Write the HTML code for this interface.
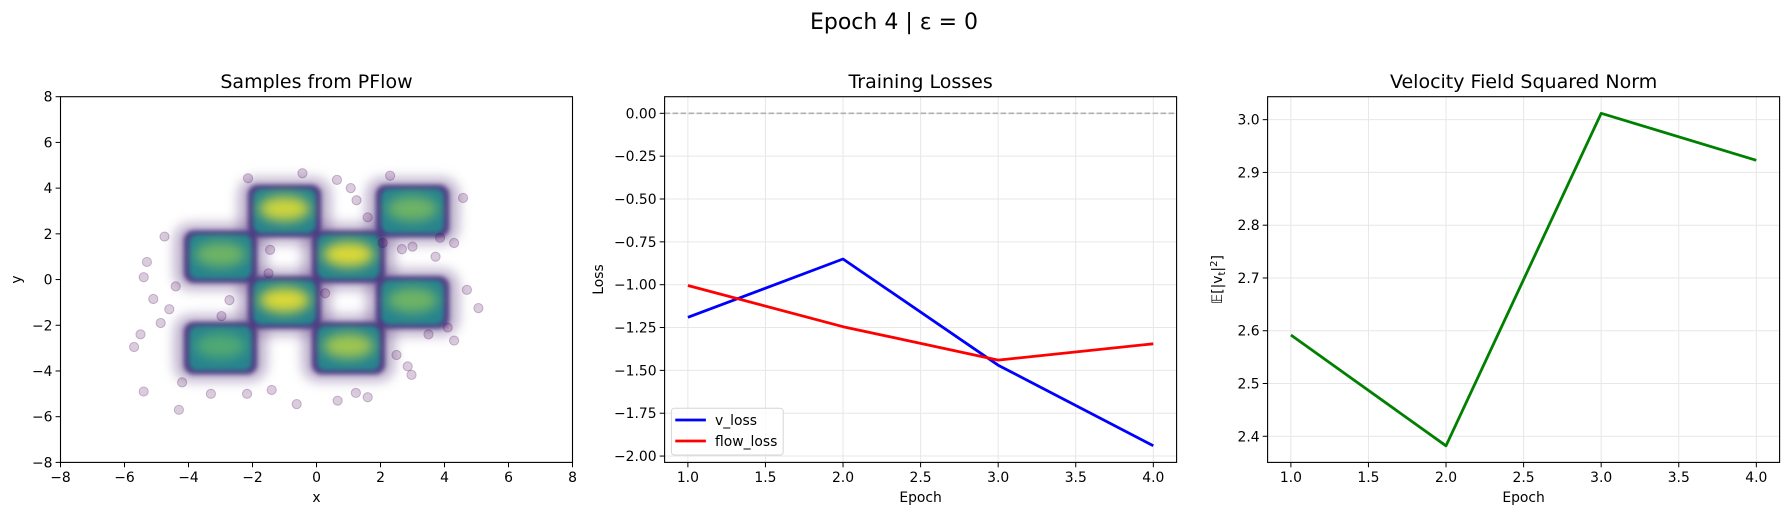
<!DOCTYPE html>
<html><head><meta charset="utf-8"><style>
html,body{margin:0;padding:0;background:#fff}
svg{display:block;font-family:"DejaVu Sans","Liberation Sans",sans-serif}
</style></head><body>
<svg id="fig" width="1789" height="515" viewBox="0 0 1789 515" xmlns="http://www.w3.org/2000/svg">
<defs>
<filter id="b5" x="-50%" y="-50%" width="200%" height="200%"><feGaussianBlur stdDeviation="6"/></filter>
<filter id="b3" x="-50%" y="-50%" width="200%" height="200%"><feGaussianBlur stdDeviation="2.5"/></filter>
<filter id="b6" x="-50%" y="-50%" width="200%" height="200%"><feGaussianBlur stdDeviation="6"/></filter>
</defs>
<rect width="1789" height="515" fill="#fff"/>
<text x="894" y="29" font-size="22" text-anchor="middle">Epoch 4 | ε = 0</text>
<g id="p1"></g>
<g id="p2"></g>
<g id="p3"></g>
</svg>
<script>
// ---- Panel 1 data: checkerboard clusters ----
const clusterX = [-1, 3, -3, 1, -1, 3, -3, 1];
const clusterY = [3, 3, 1, 1, -1, -1, -3, -3];
const clusterCore = [0.9, 0.45, 0.45, 0.95, 0.95, 0.45, 0.25, 0.7];
const outlierX = [-5.7,-5.4,-4.3,-0.62,0.66,5.06,4.7,4.3,2.3,-0.44,-2.14,4.58,3.86,3.0,3.72,2.67,-4.75,-5.3,-5.4,-5.1,-4.87,-5.5,-1.4,-2.17,-3.3,1.23,1.6,2.97,2.85,2.5,0.64,1.07,1.25,1.6,2.07,-1.45,-1.5,-2.72,-2.97,0.27,-4.6,-4.4,4.1,4.3,-4.2,3.5];
const outlierY = [-2.95,-4.9,-5.7,-5.45,-5.3,-1.25,-0.45,-2.67,4.54,4.65,4.43,3.57,1.83,1.44,1.0,1.33,1.88,0.77,0.1,-0.85,-1.9,-2.4,-4.83,-5.0,-5.0,-4.96,-5.15,-4.17,-3.8,-3.3,4.36,4.0,3.47,2.72,1.6,1.3,0.27,-0.9,-1.6,-0.6,-1.3,-0.3,-2.1,1.6,-4.5,-2.4];
// ---- Panel 2 data ----
const epochs = [1, 2, 3, 4];
const vLoss = [-1.19, -0.85, -1.47, -1.94];
const flowLoss = [-1.005, -1.245, -1.44, -1.345];
const lossTicks = [0, -0.25, -0.5, -0.75, -1.0, -1.25, -1.5, -1.75, -2.0];
const lossTickLabels = ["0.00","−0.25","−0.50","−0.75","−1.00","−1.25","−1.50","−1.75","−2.00"];
const epochTicks = [1.0, 1.5, 2.0, 2.5, 3.0, 3.5, 4.0];
const epochTickLabels = ["1.0","1.5","2.0","2.5","3.0","3.5","4.0"];
// ---- Panel 3 data ----
const vNorm = [2.592, 2.382, 3.012, 2.923];
const normTicks = [2.4, 2.5, 2.6, 2.7, 2.8, 2.9, 3.0];
const normTickLabels = ["2.4","2.5","2.6","2.7","2.8","2.9","3.0"];
const p1Ticks = [-8,-6,-4,-2,0,2,4,6,8];
const p1TickLabels = ["−8","−6","−4","−2","0","2","4","6","8"];

const NS = "http://www.w3.org/2000/svg";
function mk(parent, tag, attrs, text){
  const e = document.createElementNS(NS, tag);
  for (const k in attrs) e.setAttribute(k, attrs[k]);
  if (text !== undefined) e.textContent = text;
  parent.appendChild(e);
  return e;
}
const TOP = 96.7, BOT = 462.4;
const P1L = 60.5, P1R = 572.5, P2L = 664.6, P2R = 1176.6, P3L = 1267.6, P3R = 1779.6;
const sx1 = v => P1L + (v + 8) / 16 * (P1R - P1L);
const sy1 = v => TOP + (8 - v) / 16 * (BOT - TOP);
const xlo = 0.85, xhi = 4.15;
const sx2 = v => P2L + (v - xlo) / (xhi - xlo) * (P2R - P2L);
const sx3 = v => P3L + (v - xlo) / (xhi - xlo) * (P3R - P3L);
const y2lo = -2.037, y2hi = 0.097;
const sy2 = v => TOP + (y2hi - v) / (y2hi - y2lo) * (BOT - TOP);
const y3lo = 2.3505, y3hi = 3.0435;
const sy3 = v => TOP + (y3hi - v) / (y3hi - y3lo) * (BOT - TOP);

function lerpColor(a, b, t){
  const pa = [1,3,5].map(i=>parseInt(a.substr(i,2),16));
  const pb = [1,3,5].map(i=>parseInt(b.substr(i,2),16));
  return "rgb(" + pa.map((v,i)=>Math.round(v+(pb[i]-v)*t)).join(",") + ")";
}

function axesFrame(g, L, R){
  const f = mk(g, "rect", {x:L, y:TOP, width:R-L, height:BOT-TOP, fill:"none", stroke:"#000", "stroke-width":1.1});
  
  
}
function xTicks(g, ticks, labels, sx){
  ticks.forEach((t,i)=>{
    const x = sx(t);
    const tk = mk(g, "line", {x1:x, x2:x, y1:BOT, y2:BOT+4.9, stroke:"#000", "stroke-width":1});
    
    
    const lb = mk(g, "text", {x:x, y:BOT+19.5, "font-size":13.9, "text-anchor":"middle"}, labels[i]);
    
    
  });
}
function yTicks(g, ticks, labels, sy, L){
  ticks.forEach((t,i)=>{
    const y = sy(t);
    const tk = mk(g, "line", {x1:L-4.9, x2:L, y1:y, y2:y, stroke:"#000", "stroke-width":1});
    
    
    const lb = mk(g, "text", {x:L-8, y:y+5, "font-size":13.9, "text-anchor":"end"}, labels[i]);
    
    
  });
}
function grid(g, xt, yt, sx, sy, L, R){
  xt.forEach(t=>{
    const l = mk(g, "line", {x1:sx(t), x2:sx(t), y1:TOP, y2:BOT, stroke:"#e7e7e7", "stroke-width":1});
    
    
  });
  yt.forEach(t=>{
    const l = mk(g, "line", {x1:L, x2:R, y1:sy(t), y2:sy(t), stroke:"#e7e7e7", "stroke-width":1});
    
    
  });
}
function title(g, cx, txt){
  const t = mk(g, "text", {x:cx, y:88, "font-size":19, "text-anchor":"middle"}, txt);
  
  
}
function polyline(g, xs, ys, sx, sy, color){
  const pts = xs.map((x,i)=>sx(x).toFixed(1)+","+sy(ys[i]).toFixed(1)).join(" ");
  return mk(g, "polyline", {points:pts, fill:"none", stroke:color, "stroke-width":2.8, "stroke-linejoin":"round"});
}

// ---- Panel 1 ----
const p1 = document.getElementById("p1");
title(p1, (P1L+P1R)/2, "Samples from PFlow");
const ux = (P1R-P1L)/16, uy = (BOT-TOP)/16;
const layers = mk(p1, "g", {});


clusterX.forEach((cx,i)=>{
  const x = sx1(cx), y = sy1(clusterY[i]);
  const h = mk(layers, "rect", {x:x-1.45*ux, y:y-1.45*uy, width:2.9*ux, height:2.9*uy, rx:16, fill:"#7d6499", opacity:0.5, filter:"url(#b5)"});
  
  
});
clusterX.forEach((cx,i)=>{
  const x = sx1(cx), y = sy1(clusterY[i]);
  const e = mk(layers, "rect", {x:x-1.15*ux, y:y-1.15*uy, width:2.3*ux, height:2.3*uy, rx:10, fill:"#47327e", opacity:0.9, filter:"url(#b3)"});
  
  
  const m = mk(layers, "rect", {x:x-0.98*ux, y:y-0.98*uy, width:1.96*ux, height:1.96*uy, rx:8, fill:"#26838e", filter:"url(#b3)"});
  
  
  const c = mk(layers, "ellipse", {cx:x, cy:y-0.1*uy, rx:0.8*ux, ry:0.55*uy, fill:lerpColor("#3fbc73","#fde725",clusterCore[i]), opacity:0.45+0.45*clusterCore[i], filter:"url(#b6)"});
  
  
});
outlierX.forEach((ox,i)=>{
  const p = mk(layers, "circle", {cx:sx1(ox), cy:sy1(outlierY[i]), r:4.6, fill:"#440154", "fill-opacity":0.2, stroke:"#440154", "stroke-opacity":0.25, "stroke-width":1});
  
  
});
axesFrame(p1, P1L, P1R);
xTicks(p1, p1Ticks, p1TickLabels, sx1);
yTicks(p1, p1Ticks, p1TickLabels, sy1, P1L);
const xl1 = mk(p1, "text", {x:(P1L+P1R)/2, y:502, "font-size":13.9, "text-anchor":"middle"}, "x");


const yl1 = mk(p1, "text", {x:0, y:0, "font-size":13.9, "text-anchor":"middle", transform:"translate(21,"+((TOP+BOT)/2)+") rotate(-90)"}, "y");



// ---- Panel 2 ----
const p2 = document.getElementById("p2");
title(p2, (P2L+P2R)/2, "Training Losses");
grid(p2, epochTicks, lossTicks, sx2, sy2, P2L, P2R);
const hl = mk(p2, "line", {x1:P2L, x2:P2R, y1:sy2(0), y2:sy2(0), stroke:"#b0b0b0", "stroke-width":1.6, "stroke-dasharray":"5.5,2.5"});


const lv = polyline(p2, epochs, vLoss, sx2, sy2, "#0000ff");


const lf = polyline(p2, epochs, flowLoss, sx2, sy2, "#ff0000");


axesFrame(p2, P2L, P2R);
xTicks(p2, epochTicks, epochTickLabels, sx2);
yTicks(p2, lossTicks, lossTickLabels, sy2, P2L);
const xl2 = mk(p2, "text", {x:(P2L+P2R)/2, y:502, "font-size":13.9, "text-anchor":"middle"}, "Epoch");


const yl2 = mk(p2, "text", {x:0, y:0, "font-size":13.9, "text-anchor":"middle", transform:"translate(603,"+((TOP+BOT)/2)+") rotate(-90)"}, "Loss");


const lg = mk(p2, "g", {});


mk(lg, "rect", {x:671.4, y:408.3, width:111.8, height:46.7, rx:3, fill:"#fff", "fill-opacity":0.8, stroke:"#d6d6d6", "stroke-width":1});
const e1 = mk(lg, "line", {x1:675.3, x2:705.9, y1:420, y2:420, stroke:"#0000ff", "stroke-width":2.8});


mk(lg, "text", {x:715, y:425, "font-size":13.9}, "v_loss");
const e2 = mk(lg, "line", {x1:675.3, x2:705.9, y1:441, y2:441, stroke:"#ff0000", "stroke-width":2.8});


mk(lg, "text", {x:715, y:446, "font-size":13.9}, "flow_loss");

// ---- Panel 3 ----
const p3 = document.getElementById("p3");
title(p3, (P3L+P3R)/2, "Velocity Field Squared Norm");
grid(p3, epochTicks, normTicks, sx3, sy3, P3L, P3R);
const ln = polyline(p3, epochs, vNorm, sx3, sy3, "#008000");


axesFrame(p3, P3L, P3R);
xTicks(p3, epochTicks, epochTickLabels, sx3);
yTicks(p3, normTicks, normTickLabels, sy3, P3L);
const xl3 = mk(p3, "text", {x:(P3L+P3R)/2, y:502, "font-size":13.9, "text-anchor":"middle"}, "Epoch");


const yl3 = mk(p3, "text", {x:0, y:0, "font-size":13.9, "text-anchor":"middle", transform:"translate(1222,"+((TOP+BOT)/2)+") rotate(-90)"});


mk(yl3, "tspan", {}, "𝔼[|v");
mk(yl3, "tspan", {"font-size":10, dy:3}, "t");
mk(yl3, "tspan", {dy:-3}, "|");
mk(yl3, "tspan", {"font-size":10, dy:-5}, "2");
mk(yl3, "tspan", {dy:5}, "]");
</script>
</body></html>
